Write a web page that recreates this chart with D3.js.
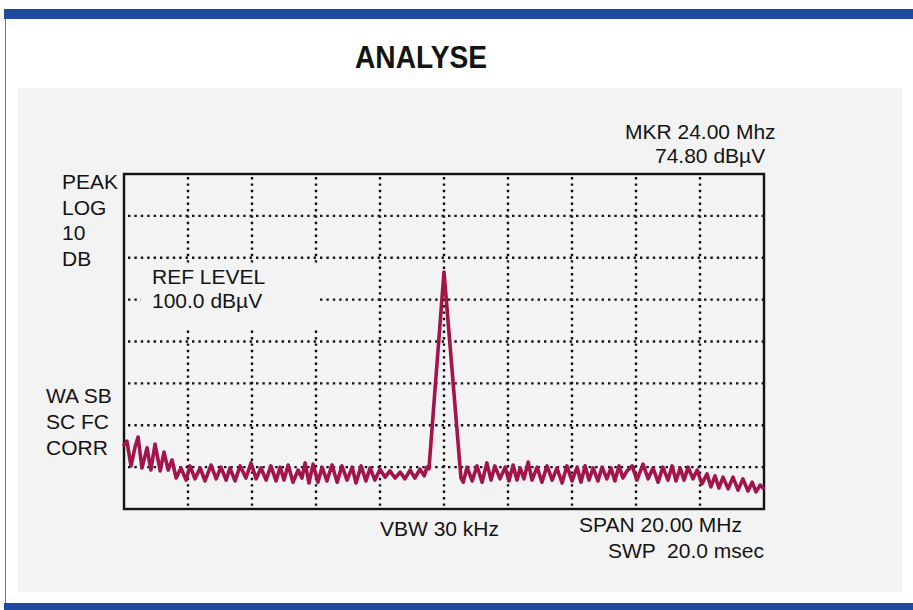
<!DOCTYPE html>
<html>
<head>
<meta charset="utf-8">
<script src="https://cdn.jsdelivr.net/npm/d3@7"></script>
<style>
  html, body { margin: 0; padding: 0; background: #ffffff; }
  svg { display: block; }
  text { font-family: "Liberation Sans", Arial, Helvetica, sans-serif; fill: #141414; }
</style>
</head>
<body>
<svg id="chart" width="913" height="610"></svg>
<script>
// ---- Data ----
const title = "ANALYSE";
const startMHz = 14, stopMHz = 34;          // centre 24 MHz, span 20 MHz
const refLevel = 100, bottomLevel = 20;     // 10 dB / div, 8 divisions
const gridFreqs = [16, 18, 20, 22, 24, 26, 28, 30, 32];
const gridLevels = [90, 80, 70, 60, 50, 40, 30];

const freqMHz = [
  14.00, 14.09, 14.22, 14.34, 14.44, 14.56, 14.72, 14.84, 14.97, 15.13,
  15.25, 15.38, 15.50, 15.63, 15.78, 15.94, 16.06, 16.22, 16.38, 16.53,
  16.72, 16.88, 17.03, 17.19, 17.31, 17.47, 17.63, 17.81, 17.97, 18.13,
  18.28, 18.44, 18.59, 18.75, 18.88, 19.00, 19.13, 19.28, 19.44, 19.56,
  19.66, 19.78, 19.91, 20.06, 20.19, 20.34, 20.50, 20.66, 20.81, 20.97,
  21.13, 21.25, 21.41, 21.56, 21.69, 21.84, 22.00, 22.16, 22.31, 22.47,
  22.63, 22.78, 22.94, 23.09, 23.25, 23.38, 23.47, 23.53, 24.00, 24.53,
  24.60, 24.72, 24.88, 25.03, 25.19, 25.34, 25.47, 25.59, 25.75, 25.91,
  26.03, 26.16, 26.28, 26.38, 26.50, 26.63, 26.75, 26.91, 27.06, 27.22,
  27.38, 27.53, 27.69, 27.84, 28.00, 28.16, 28.28, 28.41, 28.53, 28.66,
  28.81, 28.94, 29.09, 29.22, 29.34, 29.47, 29.59, 29.72, 29.88, 30.03,
  30.22, 30.38, 30.53, 30.69, 30.84, 31.00, 31.13, 31.25, 31.38, 31.50,
  31.63, 31.78, 31.91, 32.06, 32.22, 32.34, 32.47, 32.59, 32.72, 32.88,
  33.03, 33.19, 33.34, 33.50, 33.63, 33.75, 33.88, 33.97
];
const levelDbuV = [
  35.3, 36.2, 30.3, 34.6, 37.2, 29.8, 34.6, 29.3, 35.5, 29.1,
  33.6, 29.3, 31.7, 27.4, 29.8, 26.9, 30.3, 27.2, 29.8, 26.7,
  30.5, 27.2, 30.0, 26.9, 29.8, 26.7, 30.3, 27.4, 31.0, 27.2,
  29.8, 26.9, 30.3, 26.7, 30.0, 26.9, 30.5, 26.4, 29.3, 27.4,
  31.0, 26.2, 30.7, 26.4, 30.0, 26.7, 30.5, 26.4, 30.3, 26.9,
  30.0, 26.2, 30.3, 26.7, 29.8, 26.9, 29.5, 27.6, 29.1, 27.4,
  28.8, 27.2, 29.3, 27.4, 29.5, 27.9, 30.0, 29.6, 76.6, 27.4,
  26.4, 30.0, 26.7, 30.3, 26.4, 31.0, 26.9, 30.3, 27.2, 30.0,
  26.7, 30.5, 26.9, 29.8, 27.2, 31.2, 26.9, 30.0, 26.4, 30.3,
  26.9, 29.8, 26.2, 30.3, 26.7, 30.0, 26.4, 30.3, 26.9, 29.8,
  26.7, 30.0, 27.2, 29.8, 26.7, 30.3, 27.4, 29.1, 30.3, 26.9,
  30.7, 27.2, 29.8, 26.4, 30.0, 26.9, 30.3, 26.7, 29.8, 26.9,
  30.0, 27.2, 29.3, 26.0, 28.4, 25.3, 27.9, 25.0, 27.6, 24.8,
  27.6, 24.5, 27.2, 24.3, 26.4, 24.1, 25.7, 25.0
];

const leftTopLabels = ["PEAK", "LOG", "10", "DB"];
const leftBottomLabels = ["WA SB", "SC FC", "CORR"];
const refLabels = ["REF LEVEL", "100.0 dB\u00B5V"];
const markerLabels = ["MKR 24.00 Mhz", "74.80 dB\u00B5V"];
const vbwLabel = "VBW 30 kHz";
const spanLabels = ["SPAN 20.00 MHz", "SWP  20.0 msec"];

// ---- Drawing ----
const svg = d3.select("#chart");
const W = 913, H = 610;
const plot = { left: 124, right: 764, top: 174, bottom: 509 };
const paper = "#f3f3f3";

const x = d3.scaleLinear().domain([startMHz, stopMHz]).range([plot.left, plot.right]);
const y = d3.scaleLinear().domain([bottomLevel, refLevel]).range([plot.bottom, plot.top]);

// page chrome
svg.append("rect").attr("x", 0).attr("y", 0).attr("width", W).attr("height", H).attr("fill", "#ffffff");
svg.append("rect").attr("x", 18).attr("y", 88).attr("width", 884).attr("height", 504).attr("fill", paper);
svg.append("rect").attr("x", 4).attr("y", 9).attr("width", W - 4).attr("height", 10).attr("fill", "#1e4b9d");
svg.append("rect").attr("x", 4).attr("y", 603).attr("width", W - 4).attr("height", 7).attr("fill", "#1e4b9d");
svg.append("line").attr("x1", 5.5).attr("x2", 5.5).attr("y1", 19).attr("y2", 603)
  .attr("stroke", "#777").attr("stroke-width", 1);

// title
svg.append("text").attr("x", 421).attr("y", 68).attr("text-anchor", "middle")
  .attr("font-family", "'DejaVu Sans Condensed', 'Liberation Sans Narrow', sans-serif")
  .attr("font-weight", "bold").attr("font-size", 31)
  .attr("textLength", 132).attr("lengthAdjust", "spacingAndGlyphs")
  .text(title);

// grid
const grid = svg.append("g").attr("stroke", "#111").attr("stroke-width", 2.4)
  .attr("stroke-dasharray", "2.4 4");
grid.selectAll("line.v").data(gridFreqs).enter().append("line")
  .attr("x1", d => x(d)).attr("x2", d => x(d))
  .attr("y1", plot.top + 3).attr("y2", plot.bottom);
grid.selectAll("line.h").data(gridLevels).enter().append("line")
  .attr("y1", d => y(d)).attr("y2", d => y(d))
  .attr("x1", plot.left + 4).attr("x2", plot.right);

// mask behind reference-level text
svg.append("rect").attr("x", 141).attr("y", 263).attr("width", 179).attr("height", 66)
  .attr("fill", paper);

// frame
svg.append("rect").attr("x", plot.left).attr("y", plot.top)
  .attr("width", plot.right - plot.left).attr("height", plot.bottom - plot.top)
  .attr("fill", "none").attr("stroke", "#111").attr("stroke-width", 2.4);

// trace
const pts = freqMHz.map((f, i) => [f, levelDbuV[i]]);
const line = d3.line().x(d => x(d[0])).y(d => y(d[1]));
svg.append("path").datum(pts).attr("d", line)
  .attr("fill", "none").attr("stroke", "#a3144a").attr("stroke-width", 3.6)
  .attr("stroke-linejoin", "round").attr("stroke-linecap", "round");

// labels
const fs = 21;
const lbl = svg.append("g").attr("font-size", fs);
lbl.selectAll("text.lt").data(leftTopLabels).enter().append("text")
  .attr("x", 62).attr("y", (d, i) => 189 + i * 25.7).text(d => d);
lbl.selectAll("text.lb").data(leftBottomLabels).enter().append("text")
  .attr("x", 46).attr("y", (d, i) => 403 + i * 26).text(d => d);
lbl.selectAll("text.rf").data(refLabels).enter().append("text")
  .attr("x", 152).attr("y", (d, i) => 284 + i * 24).text(d => d);
lbl.append("text").attr("x", 625).attr("y", 139).text(markerLabels[0]);
lbl.append("text").attr("x", 655).attr("y", 163).text(markerLabels[1]);
lbl.append("text").attr("x", 380).attr("y", 536).text(vbwLabel);
lbl.append("text").attr("x", 579).attr("y", 532).text(spanLabels[0]);
lbl.append("text").attr("x", 608).attr("y", 558).attr("xml:space", "preserve")
  .style("white-space", "pre").text(spanLabels[1]);
</script>
</body>
</html>
